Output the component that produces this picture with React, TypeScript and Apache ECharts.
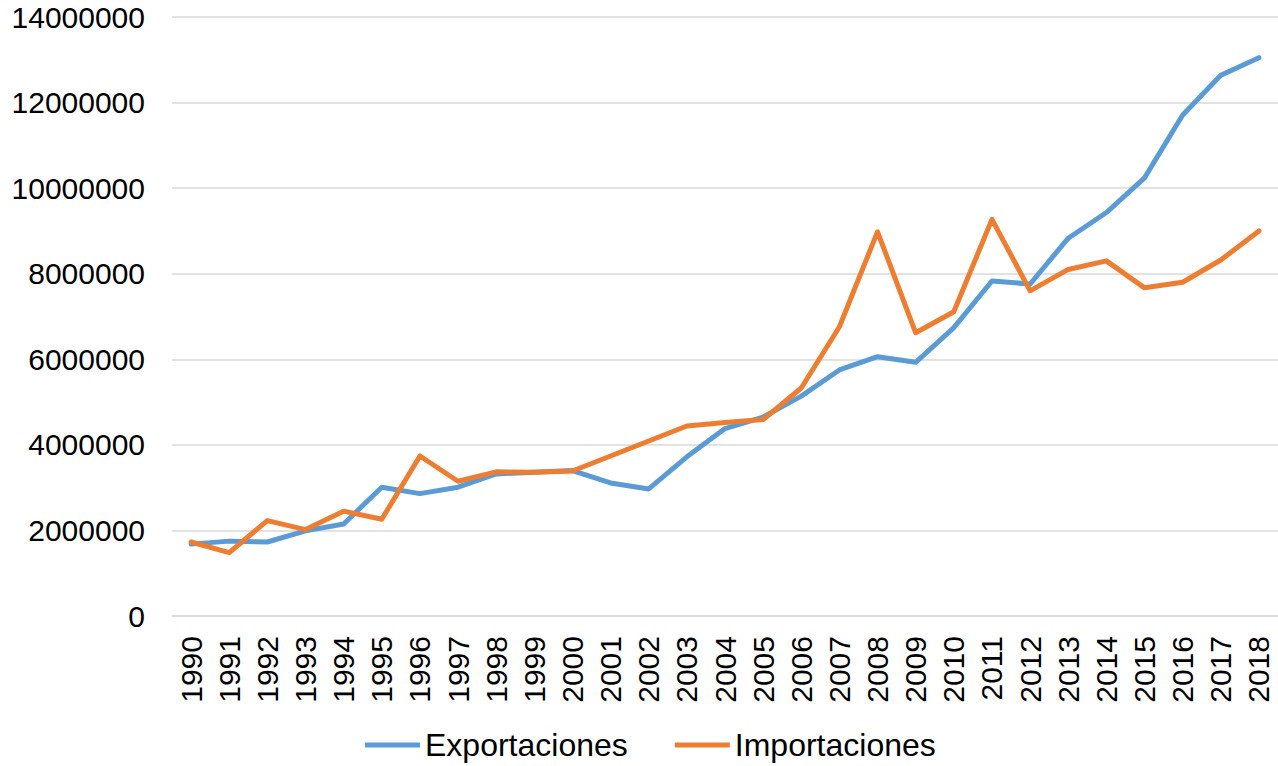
import React, { useEffect, useRef } from "react";
import * as echarts from "echarts";

const years = [
  "1990", "1991", "1992", "1993", "1994", "1995", "1996", "1997", "1998", "1999",
  "2000", "2001", "2002", "2003", "2004", "2005", "2006", "2007", "2008", "2009",
  "2010", "2011", "2012", "2013", "2014", "2015", "2016", "2017", "2018",
];

const exportaciones = [
  1680000, 1750000, 1730000, 1990000, 2150000, 3010000, 2860000, 3010000, 3320000, 3360000,
  3400000, 3110000, 2970000, 3720000, 4380000, 4650000, 5140000, 5750000, 6060000, 5930000,
  6740000, 7830000, 7760000, 8830000, 9430000, 10240000, 11710000, 12640000, 13050000,
];

const importaciones = [
  1730000, 1480000, 2230000, 2020000, 2450000, 2260000, 3740000, 3150000, 3370000, 3360000,
  3390000, 3740000, 4090000, 4440000, 4520000, 4590000, 5330000, 6760000, 8980000, 6620000,
  7110000, 9270000, 7600000, 8100000, 8300000, 7670000, 7800000, 8320000, 9000000,
];

const yTicks = { min: 0, max: 14000000, interval: 2000000 };

export default function App() {
  const ref = useRef<HTMLDivElement>(null);
  useEffect(() => {
    if (!ref.current) return;
    const chart = echarts.init(ref.current, null, { renderer: "svg" });
    const font = "'Liberation Sans', Arial, sans-serif";
    chart.setOption({
      animation: false,
      backgroundColor: "#ffffff",
      grid: { left: 172, right: 0, top: 17, bottom: 150, containLabel: false },
      legend: {
        bottom: 0,
        left: 360,
        itemWidth: 55,
        itemHeight: 5,
        itemGap: 47,
        icon: "rect",
        textStyle: { fontFamily: font, fontSize: 32, color: "#000" },
        data: ["Exportaciones", "Importaciones"],
      },
      xAxis: {
        type: "category",
        data: years,
        boundaryGap: true,
        axisLine: { show: true, lineStyle: { color: "#d9d9d9", width: 1.5 } },
        axisTick: { show: false },
        axisLabel: {
          rotate: 90,
          margin: 20,
          interval: 0,
          fontFamily: font,
          fontSize: 30,
          color: "#000",
        },
      },
      yAxis: {
        type: "value",
        min: yTicks.min,
        max: yTicks.max,
        interval: yTicks.interval,
        axisLine: { show: false },
        axisTick: { show: false },
        splitLine: { lineStyle: { color: "#d9d9d9", width: 1.5 } },
        axisLabel: {
          margin: 27,
          fontFamily: font,
          fontSize: 30,
          color: "#000",
          formatter: (v: number) => String(v),
        },
      },
      series: [
        {
          name: "Exportaciones",
          type: "line",
          data: exportaciones,
          symbol: "none",
          color: "#5B9BD5",
          lineStyle: { width: 5, cap: "round", join: "round" },
        },
        {
          name: "Importaciones",
          type: "line",
          data: importaciones,
          symbol: "none",
          color: "#ED7D31",
          lineStyle: { width: 5, cap: "round", join: "round" },
        },
      ],
    });
    return () => chart.dispose();
  }, []);
  return (
    <div
      ref={ref}
      style={{ position: "fixed", left: 0, top: 0, width: 1278, height: 766, background: "#fff" }}
    />
  );
}
